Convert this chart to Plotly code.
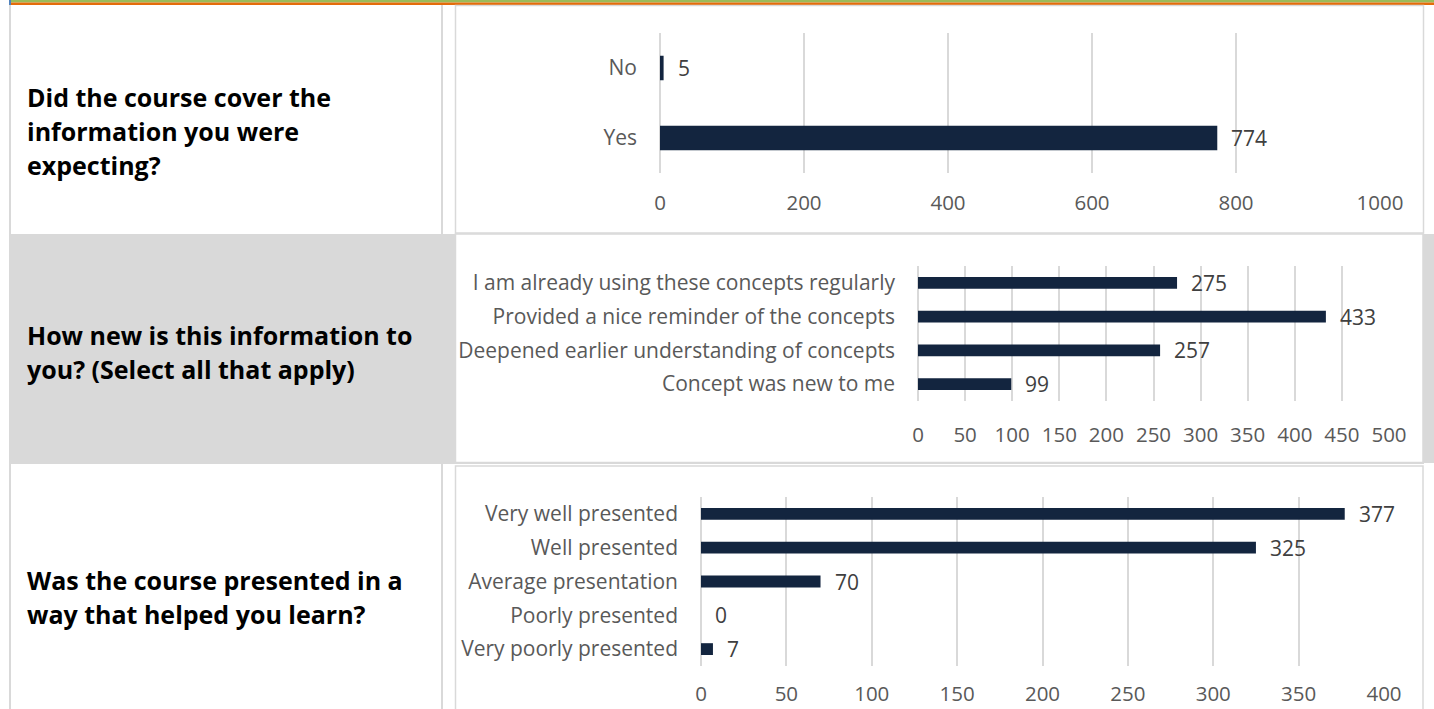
import plotly.graph_objects as go

W, H = 1434, 709

# ---------------- data ----------------
q1_question = ["Did the course cover the", "information you were", "expecting?"]
q1_cats = ["No", "Yes"]
q1_vals = [5, 774]

q2_question = ["How new is this information to", "you? (Select all that apply)"]
q2_cats = ["I am already using these concepts regularly",
           "Provided a nice reminder of the concepts",
           "Deepened earlier understanding of concepts",
           "Concept was new to me"]
q2_vals = [275, 433, 257, 99]

q3_question = ["Was the course presented in a", "way that helped you learn?"]
q3_cats = ["Very well presented", "Well presented", "Average presentation",
           "Poorly presented", "Very poorly presented"]
q3_vals = [377, 325, 70, 0, 7]

# ---------------- style ----------------
BAR = "#13253F"
GRID = "#D9D9D9"
TICK = "#595959"
LABEL = "#404040"
FONT = "Open Sans"
FS = 20.5
CFS = 21
LFS = 21
QFS = 25


def px(x):
    return x / W


def py(y):
    return 1 - y / H


fig = go.Figure()

charts = [
    dict(cats=q1_cats, vals=q1_vals, xr=[0, 1000], dt=200, so=15,
         xd=[660, 1380], yd=[173, 33], q=q1_question, qy=[97, 131, 165]),
    dict(cats=q2_cats, vals=q2_vals, xr=[0, 500], dt=50, so=19,
         xd=[918, 1389], yd=[401, 266], q=q2_question, qy=[335, 369]),
    dict(cats=q3_cats, vals=q3_vals, xr=[0, 400], dt=50, so=13,
         xd=[701, 1384], yd=[666, 497], q=q3_question, qy=[580, 614]),
]

annotations = []
for i, c in enumerate(charts, start=1):
    sfx = "" if i == 1 else str(i)
    fig.add_trace(go.Bar(
        x=c["vals"], y=c["cats"], orientation="h",
        marker=dict(color=BAR, line=dict(width=0)),
        xaxis="x" + sfx, yaxis="y" + sfx, showlegend=False, hoverinfo="skip",
    ))
    fig.update_layout(**{
        "xaxis" + sfx: dict(
            domain=[px(c["xd"][0]), px(c["xd"][1])], range=c["xr"], dtick=c["dt"],
            tick0=0, showgrid=True, gridcolor=GRID, gridwidth=1.5,
            zeroline=True, zerolinecolor=GRID, zerolinewidth=1.5,
            showline=False, ticks="", ticklabelstandoff=c["so"], automargin=False,
            tickfont=dict(family=FONT, size=FS, color=TICK),
            anchor="y" + sfx, fixedrange=True,
        ),
        "yaxis" + sfx: dict(
            domain=[py(c["yd"][0]), py(c["yd"][1])], autorange="reversed",
            type="category", showgrid=False, zeroline=False, showline=False,
            ticks="", ticklabelstandoff=22, automargin=False,
            tickfont=dict(family=FONT, size=CFS, color=TICK),
            anchor="x" + sfx, fixedrange=True,
        ),
    })
    for cat, v in zip(c["cats"], c["vals"]):
        annotations.append(dict(
            x=v, y=cat, xref="x" + sfx, yref="y" + sfx, text=str(v),
            showarrow=False, xanchor="left", yanchor="middle", xshift=12,
            font=dict(family=FONT, size=LFS, color=LABEL),
        ))
    for line, yy in zip(c["q"], c["qy"]):
        annotations.append(dict(
            x=px(25), y=py(yy), xref="paper", yref="paper", text="<b>" + line + "</b>",
            showarrow=False, xanchor="left", yanchor="middle",
            font=dict(family=FONT, size=QFS, color="#000000"),
        ))

shapes = []


def rect(x0, y0, x1, y1, fill=None, line=None, lw=0, layer="below"):
    shapes.append(dict(
        type="rect", xref="paper", yref="paper",
        x0=px(x0), x1=px(x1), y0=py(y1), y1=py(y0),
        fillcolor=fill if fill else "rgba(0,0,0,0)",
        line=dict(color=line if line else "rgba(0,0,0,0)", width=lw),
        layer=layer,
    ))


# top decorative bands
rect(9, 0, W, 2.5, fill="#9BBB59")
rect(9, 2.5, W, 5, fill="#E46C0A")
rect(9, 0, 11, 5, fill="#4F81BD")
# gray band for second row
rect(9, 234, 456, 464, fill=GRID)
rect(1423, 234, W, 463, fill=GRID)
# table vertical lines
rect(9, 5, 11, 234, fill=GRID)
rect(9, 464, 11, H, fill=GRID)
rect(441, 5, 443, 234, fill=GRID)
rect(441, 464, 443, H, fill=GRID)
rect(441, 462.5, 1424, 464, fill=GRID)
# chart frames
rect(455.5, 5.5, 1423.5, 233, line=GRID, lw=1.5)
rect(455.5, 234, 1423, 462.5, line=GRID, lw=1.5)
rect(455.5, 466, 1423, 712, line=GRID, lw=1.5)

fig.update_layout(
    width=W, height=H, autosize=False,
    margin=dict(l=0, r=0, t=0, b=0, autoexpand=False),
    paper_bgcolor="white", plot_bgcolor="rgba(0,0,0,0)",
    bargap=0.65, shapes=shapes, annotations=annotations,
    font=dict(family=FONT, size=FS, color=TICK),
)

post = (
    "document.documentElement.style.margin='0';"
    "document.documentElement.style.overflow='hidden';"
    "document.body.style.margin='0';document.body.style.padding='0';"
    "document.body.style.overflow='hidden';"
)

fig.write_html("out.html", config={"displayModeBar": False}, post_script=post)
